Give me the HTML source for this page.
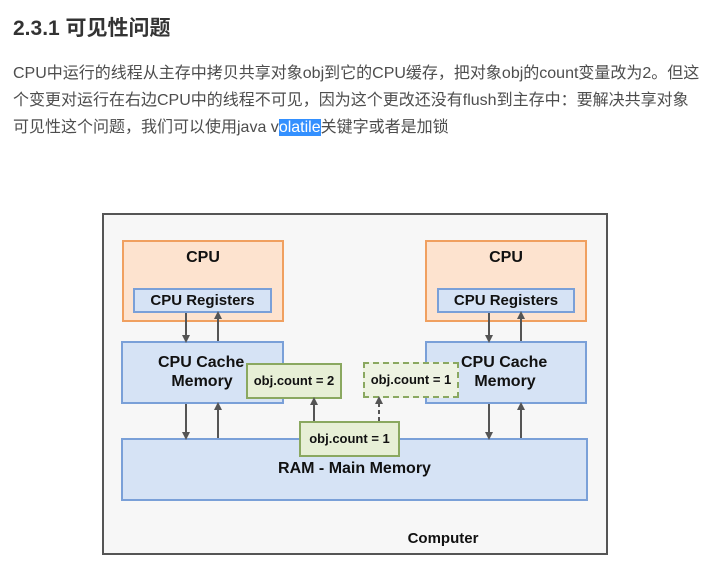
<!DOCTYPE html>
<html><head><meta charset="utf-8"><style>
body{margin:0;width:722px;height:574px;background:#fff;position:relative;overflow:hidden;font-family:"Liberation Sans","Noto Sans CJK SC",sans-serif}
.t{position:absolute;left:13px;top:12px;font-size:21px;font-weight:bold;color:#333}
.p{position:absolute;left:13px;top:60px;white-space:nowrap;font-size:16px;line-height:27px;color:#4d4d4d}
.hl{background:#3390ff;color:#fff}
.b{position:absolute;box-sizing:border-box;font-weight:bold;color:#111;text-align:center;font-size:15px}
</style></head><body>
<div class="t">2.3.1 可见性问题</div>
<div class="p">CPU中运行的线程从主存中拷贝共享对象obj到它的CPU缓存，把对象obj的count变量改为2。但这<br>个变更对运行在右边CPU中的线程不可见，因为这个更改还没有flush到主存中：要解决共享对象<br>可见性这个问题，我们可以使用java v<span class="hl">olatile</span>关键字或者是加锁</div>
<div class="b" style="left:102px;top:213px;width:506px;height:342px;border:2px solid #555;background:#f7f7f7"></div>
<div class="b" style="left:122px;top:240px;width:162px;height:82px;border:2px solid #f0a060;background:#fde3cf;padding-top:7px;font-size:16px">CPU</div>
<div class="b" style="left:425px;top:240px;width:162px;height:82px;border:2px solid #f0a060;background:#fde3cf;padding-top:7px;font-size:16px">CPU</div>
<div class="b" style="left:133px;top:288px;width:139px;height:25px;border:2px solid #7aa0d8;background:#d6e3f5;line-height:21px">CPU Registers</div>
<div class="b" style="left:437px;top:288px;width:138px;height:25px;border:2px solid #7aa0d8;background:#d6e3f5;line-height:21px">CPU Registers</div>
<div class="b" style="left:121px;top:341px;width:163px;height:63px;border:2px solid #7aa0d8;background:#d6e3f5;padding:10px 0 0 0;line-height:19px;text-align:left;padding-left:35px;font-size:16px">CPU Cache<br>&nbsp;&nbsp;&nbsp;Memory</div>
<div class="b" style="left:425px;top:341px;width:162px;height:63px;border:2px solid #7aa0d8;background:#d6e3f5;padding-top:10px;line-height:19px;text-align:left;padding-left:34px;font-size:16px">CPU Cache<br>&nbsp;&nbsp;&nbsp;Memory</div>
<div class="b" style="left:121px;top:438px;width:467px;height:63px;border:2px solid #7aa0d8;background:#d6e3f5;padding-top:20px;font-size:16px">RAM - Main Memory</div>
<div class="b" style="left:246px;top:363px;width:96px;height:36px;border:2px solid #8aa860;background:#e7efd6;line-height:32px;font-size:13px">obj.count = 2</div>
<div class="b" style="left:363px;top:362px;width:96px;height:36px;border:2px dashed #8aa860;background:#eef3e2;line-height:32px;font-size:13px">obj.count = 1</div>
<div class="b" style="left:299px;top:421px;width:101px;height:36px;border:2px solid #8aa860;background:#e7efd6;line-height:32px;font-size:13px">obj.count = 1</div>
<div class="b" style="left:380px;top:530px;width:126px;font-size:15px">Computer</div>
<svg width="722" height="574" style="position:absolute;left:0;top:0">
<defs><marker id="a" markerWidth="8" markerHeight="8" refX="4" refY="4" orient="auto" markerUnits="userSpaceOnUse"><path d="M0,0L8,4L0,8z" fill="#555"/></marker></defs>
<g stroke="#555" stroke-width="2">
<line x1="186" y1="313" x2="186" y2="339" marker-end="url(#a)"/>
<line x1="218" y1="341" x2="218" y2="315" marker-end="url(#a)"/>
<line x1="489" y1="313" x2="489" y2="339" marker-end="url(#a)"/>
<line x1="521" y1="341" x2="521" y2="315" marker-end="url(#a)"/>
<line x1="186" y1="404" x2="186" y2="436" marker-end="url(#a)"/>
<line x1="218" y1="438" x2="218" y2="406" marker-end="url(#a)"/>
<line x1="489" y1="404" x2="489" y2="436" marker-end="url(#a)"/>
<line x1="521" y1="438" x2="521" y2="406" marker-end="url(#a)"/>
<line x1="314" y1="421" x2="314" y2="401" marker-end="url(#a)"/>
<line x1="379" y1="421" x2="379" y2="400" stroke-dasharray="4,3" marker-end="url(#a)"/>
</g></svg>
</body></html>
